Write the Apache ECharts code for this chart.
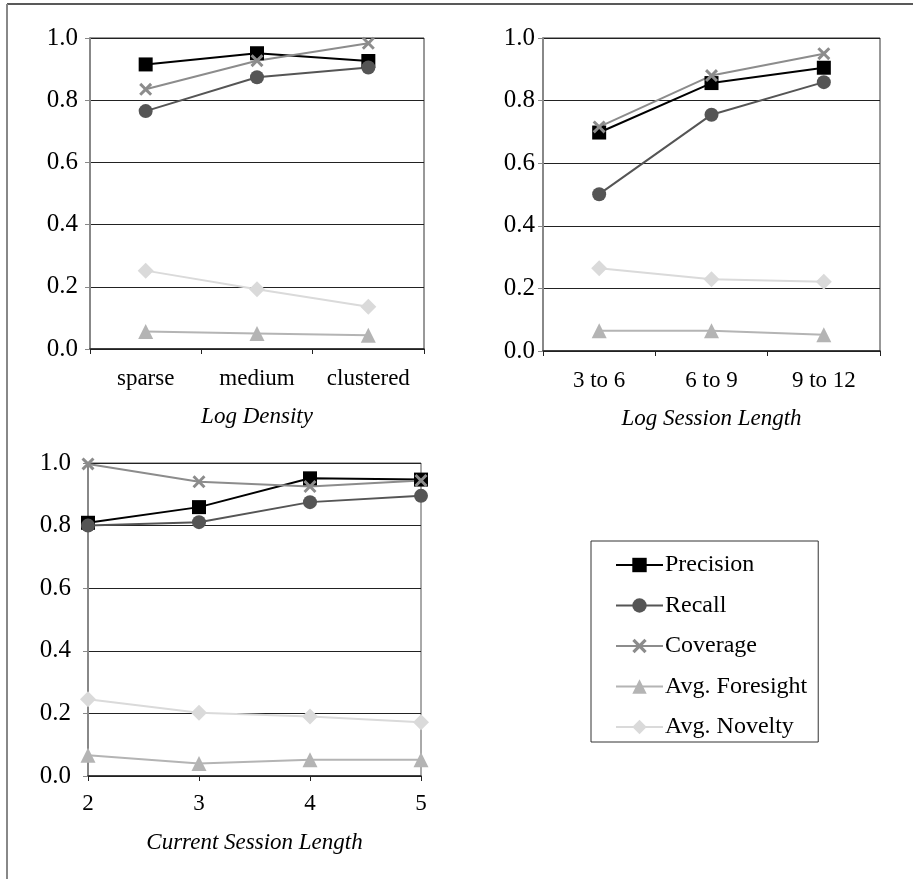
<!DOCTYPE html>
<html>
<head>
<meta charset="utf-8">
<script src="https://cdn.jsdelivr.net/npm/echarts@6/dist/echarts.min.js"></script>
<style>html,body{margin:0;padding:0;background:#fff}#c{width:913px;height:879px}</style>
</head>
<body>
<div id="c"></div>
<script>
// ---- data ----
var seriesNames = ['Precision', 'Recall', 'Coverage', 'Avg. Foresight', 'Avg. Novelty'];
var yTicks = [0, 0.2, 0.4, 0.6, 0.8, 1.0];

var densityCats = ['sparse', 'medium', 'clustered'];
var densityPrecision = [0.915, 0.951, 0.926];
var densityRecall = [0.765, 0.874, 0.905];
var densityCoverage = [0.835, 0.927, 0.983];
var densityForesight = [0.056, 0.050, 0.044];
var densityNovelty = [0.252, 0.192, 0.136];

var logLenCats = ['3 to 6', '6 to 9', '9 to 12'];
var logLenPrecision = [0.698, 0.856, 0.905];
var logLenRecall = [0.501, 0.755, 0.859];
var logLenCoverage = [0.716, 0.880, 0.950];
var logLenForesight = [0.065, 0.065, 0.052];
var logLenNovelty = [0.264, 0.229, 0.221];

var curLenCats = ['2', '3', '4', '5'];
var curLenPrecision = [0.809, 0.859, 0.951, 0.947];
var curLenRecall = [0.800, 0.811, 0.875, 0.895];
var curLenCoverage = [0.997, 0.940, 0.925, 0.944];
var curLenForesight = [0.066, 0.040, 0.052, 0.052];
var curLenNovelty = [0.245, 0.202, 0.190, 0.172];

var axisTitles = ['Log Density', 'Log Session Length', 'Current Session Length'];

// ---- style ----
var FONT = "'Liberation Serif', 'Times New Roman', serif";
var FS = 23;
var crossPath = 'path://M0,1.6 L1.6,0 L5,3.4 L8.4,0 L10,1.6 L6.6,5 L10,8.4 L8.4,10 L5,6.6 L1.6,10 L0,8.4 L3.4,5 Z';
var styles = [
  {color: '#000000', symbol: 'rect', size: 14},
  {color: '#555555', symbol: 'circle', size: 14},
  {color: '#8c8c8c', symbol: crossPath, size: 13},
  {color: '#b4b4b4', symbol: 'triangle', size: 15},
  {color: '#dadada', symbol: 'diamond', size: 16}
];

var grids = [
  {left: 90, right: 489, top: 38, bottom: 530, show: true, borderColor: '#333', borderWidth: 1},
  {left: 543, right: 33, top: 38, bottom: 528, show: true, borderColor: '#333', borderWidth: 1},
  {left: 88, right: 492, top: 463, bottom: 103, show: true, borderColor: '#555', borderWidth: 1}
];
var catsList = [densityCats, logLenCats, curLenCats];
var dataList = [
  [densityPrecision, densityRecall, densityCoverage, densityForesight, densityNovelty],
  [logLenPrecision, logLenRecall, logLenCoverage, logLenForesight, logLenNovelty],
  [curLenPrecision, curLenRecall, curLenCoverage, curLenForesight, curLenNovelty]
];
var yLabelMargins = [12, 8, 17];
var xLabelMargins = [18, 18, 16];
var nameGaps = [56, 56, 55];

var xAxes = [], yAxes = [], series = [];
for (var g = 0; g < 3; g++) {
  xAxes.push({
    type: 'category', gridIndex: g, data: catsList[g],
    boundaryGap: g < 2,
    name: axisTitles[g], nameLocation: 'middle', nameGap: nameGaps[g],
    nameTextStyle: {fontFamily: FONT, fontSize: FS, fontStyle: 'italic', color: '#000'},
    axisLine: {lineStyle: {color: '#222', width: 1.5}},
    axisTick: {show: true, length: 5, lineStyle: {color: '#222'}},
    axisLabel: {fontFamily: FONT, fontSize: FS, color: '#000', margin: xLabelMargins[g], interval: 0}
  });
  yAxes.push({
    type: 'value', gridIndex: g, min: yTicks[0], max: yTicks[yTicks.length - 1], interval: 0.2,
    axisLine: {show: true, lineStyle: {color: '#888', width: 2}},
    axisTick: {show: true, length: 5, lineStyle: {color: '#888'}},
    axisLabel: {fontFamily: FONT, fontSize: 25, color: '#000', margin: yLabelMargins[g],
      formatter: function (v) { return v.toFixed(1); }},
    splitLine: {show: true, lineStyle: {color: '#222', width: 1}}
  });
  for (var s = 0; s < 5; s++) {
    series.push({
      type: 'line', name: seriesNames[s], xAxisIndex: g, yAxisIndex: g,
      data: dataList[g][s],
      symbol: styles[s].symbol, symbolSize: styles[s].size,
      lineStyle: {color: styles[s].color, width: 2},
      itemStyle: {color: styles[s].color},
      animation: false
    });
  }
}

var chart = echarts.init(document.getElementById('c'), null, {renderer: 'canvas'});
chart.setOption({
  animation: false,
  backgroundColor: '#fff',
  grid: grids,
  xAxis: xAxes,
  yAxis: yAxes,
  series: series,
  legend: {
    data: seriesNames, orient: 'vertical', left: 591, top: 541,
    itemWidth: 47, itemHeight: 18, itemGap: 16.5, selectedMode: false,
    lineStyle: {width: 2},
    borderColor: '#333', borderWidth: 1, padding: [12, 11, 3, 24],
    textStyle: {fontFamily: FONT, fontSize: 24, color: '#000', lineHeight: 24, padding: [0, 0, 0, -3]}
  },
  graphic: [
    {type: 'line', shape: {x1: 7, y1: 4, x2: 913, y2: 4}, style: {stroke: '#222', lineWidth: 1.5}},
    {type: 'line', shape: {x1: 7, y1: 4, x2: 7, y2: 879}, style: {stroke: '#888', lineWidth: 2}}
  ]
});
</script>
</body>
</html>
